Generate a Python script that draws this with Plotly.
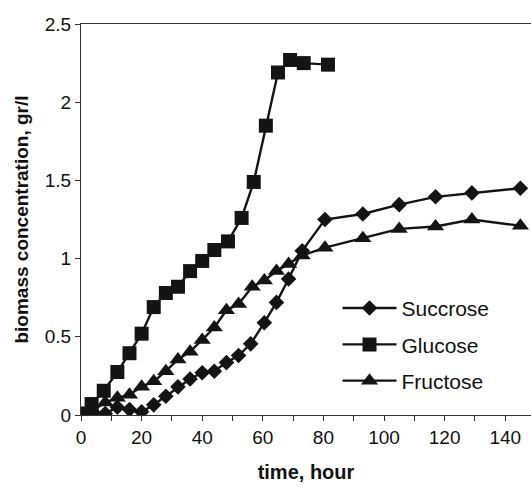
import plotly.graph_objects as go

# Data
glucose_t = [0, 3.5, 7.5, 12, 16, 20, 24, 28, 32, 36, 40, 44, 48.5, 53, 57, 61, 65, 69, 73.5, 81.5]
glucose_y = [0.01, 0.07, 0.155, 0.275, 0.395, 0.52, 0.69, 0.78, 0.82, 0.92, 0.985, 1.055, 1.11,
             1.26, 1.49, 1.85, 2.19, 2.27, 2.25, 2.24]

succrose_t = [0, 4, 8, 12, 16, 20, 24, 28, 32, 36, 40, 44, 48, 52, 56, 60.5, 64.5, 68.5, 73,
              80.5, 93, 105, 117, 129, 145]
succrose_y = [0.0, 0.01, 0.01, 0.05, 0.035, 0.02, 0.065, 0.12, 0.18, 0.23, 0.27, 0.28, 0.335,
              0.38, 0.455, 0.59, 0.72, 0.87, 1.05, 1.25, 1.285, 1.345, 1.395, 1.42, 1.45]

fructose_t = [0, 4, 8, 12, 16, 20, 24, 28, 32, 36, 40, 44, 48, 52, 56.5, 60.5, 64.5, 68.5, 73,
              80.5, 93, 105, 117, 129, 145]
fructose_y = [0.0, 0.03, 0.08, 0.11, 0.13, 0.18, 0.215, 0.28, 0.355, 0.405, 0.48, 0.56, 0.67,
              0.71, 0.82, 0.86, 0.92, 0.965, 1.02, 1.07, 1.13, 1.19, 1.205, 1.25, 1.21]

x_tickvals = [0, 10, 20, 30, 40, 50, 60, 70, 80, 90, 100, 110, 120, 130, 140]
x_ticktext = ["0", "", "20", "", "40", "", "60", "", "80", "", "100", "", "120", "", "140"]
y_tickvals = [0, 0.5, 1, 1.5, 2, 2.5]
y_ticktext = ["0", "0.5", "1", "1.5", "2", "2.5"]

FONT = "Arial, Liberation Sans, sans-serif"
BLACK = "#141414"

fig = go.Figure()
fig.add_trace(go.Scatter(
    x=succrose_t, y=succrose_y, name="Succrose", mode="lines+markers", legendgroup="a",
    line=dict(color=BLACK, width=2.4),
    marker=dict(symbol="diamond", size=12, color=BLACK)))
fig.add_trace(go.Scatter(
    x=glucose_t, y=glucose_y, name="Glucose", mode="lines+markers", legendgroup="b",
    line=dict(color=BLACK, width=2.4),
    marker=dict(symbol="square", size=14, color=BLACK)))
fig.add_trace(go.Scatter(
    x=fructose_t, y=fructose_y, name="Fructose", mode="lines+markers", legendgroup="c",
    line=dict(color=BLACK, width=2.4),
    marker=dict(symbol="triangle-up", size=15, color=BLACK)))

fig.update_layout(
    width=531, height=486,
    margin=dict(l=81, r=0, t=24, b=71),
    paper_bgcolor="white", plot_bgcolor="white",
    font=dict(family=FONT, size=19, color="#111111"),
    showlegend=True,
    legend=dict(x=0.57, y=0.325, xanchor="left", yanchor="top",
                bgcolor="rgba(0,0,0,0)", font=dict(size=21, family=FONT),
                itemwidth=54, tracegroupgap=6, traceorder="grouped"),
    xaxis=dict(range=[0, 148.5], tickmode="array", tickvals=x_tickvals, ticktext=x_ticktext,
               ticks="outside", ticklen=5, tickcolor="#333", showline=True, linecolor="#333",
               linewidth=1, mirror=True, showgrid=False, zeroline=False,
               title=dict(text="<b>time, hour</b>", font=dict(size=20), standoff=18)),
    yaxis=dict(range=[0, 2.5], tickmode="array", tickvals=y_tickvals, ticktext=y_ticktext,
               ticks="outside", ticklen=5, tickcolor="#333", showline=True, linecolor="#333",
               linewidth=1, showgrid=False, zeroline=False,
               title=dict(text="<b>biomass concentration, gr/l</b>", font=dict(size=19),
                          standoff=11)),
)

fig.write_html("out.html")
